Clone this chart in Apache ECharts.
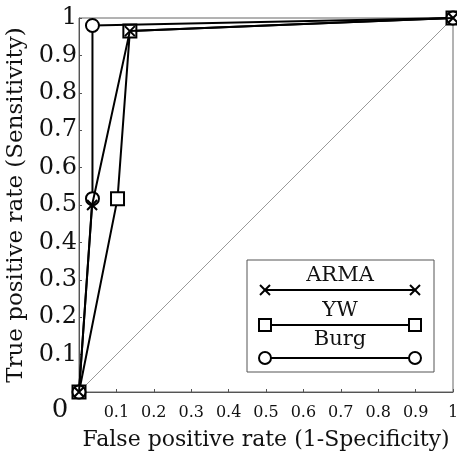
<!DOCTYPE html>
<html>
<head>
<meta charset="utf-8">
<script src="https://cdn.jsdelivr.net/npm/echarts@6/dist/echarts.min.js"></script>
<style>
  html, body { margin: 0; padding: 0; background: #fff; }
  #chart { width: 457px; height: 458px; }
</style>
</head>
<body>
<div id="chart"></div>
<script>
// ROC points
const fprArma = [0, 0.035, 0.136, 1]
const tprArma = [0, 0.50, 0.965, 1]
const fprYw = [0, 0.103, 0.136, 1]
const tprYw = [0, 0.517, 0.965, 1]
const fprBurg = [0, 0.036, 0.036, 1]
const tprBurg = [0, 0.517, 0.980, 1]
const chance = [[0, 0], [1, 1]]

const serif = 'DejaVu Serif'
const crossPath = 'path://M0,0L10,10M10,0L0,10'

function pairs(xs, ys) {
  return xs.map((x, i) => [x, ys[i]])
}

function tickLabel(v) {
  if (v === 0) return ''
  if (v === 1) return '1'
  return v.toFixed(1)
}

// small x drawn with two line elements
function cross(cx, cy) {
  const s = { stroke: '#000', lineWidth: 2 }
  return [
    { type: 'line', shape: { x1: cx - 5, y1: cy - 5, x2: cx + 5, y2: cy + 5 }, style: s, z: 12 },
    { type: 'line', shape: { x1: cx + 5, y1: cy - 5, x2: cx - 5, y2: cy + 5 }, style: s, z: 12 }
  ]
}

const myChart = echarts.init(document.getElementById('chart'))

myChart.setOption({
  animation: false,
  grid: {
    left: 79, right: 4, top: 18, bottom: 66,
    outerBoundsMode: 'none',
    show: true, borderColor: '#666', borderWidth: 1
  },
  xAxis: {
    type: 'value', min: 0, max: 1, interval: 0.1,
    name: 'False positive rate (1-Specificity)',
    nameLocation: 'middle', nameGap: 37,
    nameTextStyle: { fontFamily: serif, fontSize: 22, color: '#111' },
    axisLine: { lineStyle: { color: '#555' } },
    axisTick: { inside: true, length: 3, lineStyle: { color: '#555' } },
    axisLabel: { formatter: tickLabel, fontFamily: serif, fontSize: 16, color: '#111', margin: 13 },
    splitLine: { show: false }
  },
  yAxis: {
    type: 'value', min: 0, max: 1, interval: 0.1,
    name: 'True positive rate (Sensitivity)',
    nameLocation: 'middle', nameGap: 42,
    nameTextStyle: { fontFamily: serif, fontSize: 23, color: '#111' },
    axisLine: { lineStyle: { color: '#555' } },
    axisTick: { inside: true, length: 3, lineStyle: { color: '#555' } },
    axisLabel: { formatter: tickLabel, fontFamily: serif, fontSize: 24, color: '#111', margin: 2 },
    splitLine: { show: false }
  },
  series: [
    {
      type: 'line', data: chance, symbol: 'none', silent: true,
      lineStyle: { color: '#999', width: 1 }, z: 1
    },
    {
      name: 'YW', type: 'line', data: pairs(fprYw, tprYw),
      symbol: 'rect', symbolSize: 13,
      lineStyle: { color: '#000', width: 2 },
      itemStyle: { color: '#fff', borderColor: '#000', borderWidth: 2 }, z: 2
    },
    {
      name: 'Burg', type: 'line', data: pairs(fprBurg, tprBurg),
      symbol: 'circle', symbolSize: 13,
      lineStyle: { color: '#000', width: 2 },
      itemStyle: { color: '#fff', borderColor: '#000', borderWidth: 2 }, z: 3
    },
    {
      name: 'ARMA', type: 'line', data: pairs(fprArma, tprArma),
      symbol: crossPath, symbolSize: 10,
      lineStyle: { color: '#000', width: 2 },
      itemStyle: { color: 'none', borderColor: '#000', borderWidth: 2 }, z: 4
    }
  ],
  graphic: [
    { type: 'text', x: 60, y: 410, style: { text: '0', fontFamily: serif, fontSize: 26, fill: '#111', align: 'center', verticalAlign: 'middle' } },
    // legend box
    { type: 'rect', shape: { x: 247, y: 260, width: 187, height: 112 }, style: { fill: '#fff', stroke: '#555', lineWidth: 1 }, z: 10 },
    { type: 'text', x: 340, y: 276, style: { text: 'ARMA', fontFamily: serif, fontSize: 21, fill: '#111', align: 'center', verticalAlign: 'middle' }, z: 11 },
    { type: 'line', shape: { x1: 265, y1: 290, x2: 415, y2: 290 }, style: { stroke: '#000', lineWidth: 2 }, z: 11 },
    ...cross(265, 290),
    ...cross(415, 290),
    { type: 'text', x: 340, y: 311, style: { text: 'YW', fontFamily: serif, fontSize: 21, fill: '#111', align: 'center', verticalAlign: 'middle' }, z: 11 },
    { type: 'line', shape: { x1: 265, y1: 325, x2: 415, y2: 325 }, style: { stroke: '#000', lineWidth: 2 }, z: 11 },
    { type: 'rect', shape: { x: 259, y: 319, width: 12, height: 12 }, style: { fill: '#fff', stroke: '#000', lineWidth: 2 }, z: 12 },
    { type: 'rect', shape: { x: 409, y: 319, width: 12, height: 12 }, style: { fill: '#fff', stroke: '#000', lineWidth: 2 }, z: 12 },
    { type: 'text', x: 340, y: 340, style: { text: 'Burg', fontFamily: serif, fontSize: 21, fill: '#111', align: 'center', verticalAlign: 'middle' }, z: 11 },
    { type: 'line', shape: { x1: 265, y1: 358, x2: 415, y2: 358 }, style: { stroke: '#000', lineWidth: 2 }, z: 11 },
    { type: 'circle', shape: { cx: 265, cy: 358, r: 6 }, style: { fill: '#fff', stroke: '#000', lineWidth: 2 }, z: 12 },
    { type: 'circle', shape: { cx: 415, cy: 358, r: 6 }, style: { fill: '#fff', stroke: '#000', lineWidth: 2 }, z: 12 }
  ]
})
</script>
</body>
</html>
